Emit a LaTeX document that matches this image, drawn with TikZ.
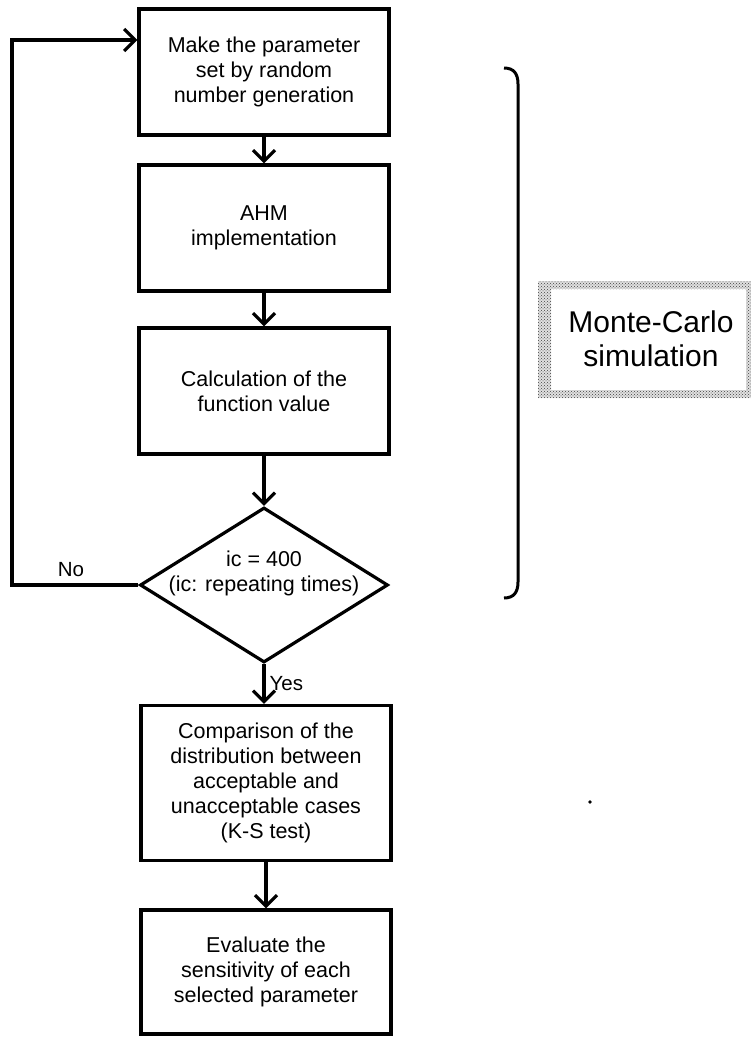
\documentclass[tikz,border=0pt]{standalone}
\usepackage{fontspec}
\setmainfont{Liberation Sans}
\usetikzlibrary{arrows.meta,shapes.geometric,patterns}
\tikzset{
  box/.style={draw, line width=3.2pt, minimum width=250pt, inner sep=0pt, align=center,
    font=\fontsize{21.5pt}{25pt}\selectfont},
  txt/.style={align=center, inner sep=0pt, font=\fontsize{21.5pt}{25pt}\selectfont},
  lbl/.style={inner sep=0pt, font=\fontsize{20.5pt}{24pt}\selectfont},
  conn/.style={line width=3.2pt, -{Straight Barb[length=11pt,width=22pt,line width=3.2pt]}},
}
\begin{document}
\begin{tikzpicture}[x=1pt,y=-1pt]
\useasboundingbox (0,0) rectangle (751,1038);
\node[box, minimum height=126pt] (b1) at (264,72) {Make the parameter\\set by random\\number generation};
\node[box, minimum height=126pt] (b2) at (264,228) {AHM\\implementation};
\node[box, minimum height=126pt] (b3) at (264,391) {Calculation of the\\function value};
\node[draw, diamond, line width=3.2pt, minimum width=248pt, minimum height=155pt, inner sep=0pt] (d) at (264,585) {};
\node[txt] (dt) at (264,573) {ic = 400\\(ic: repeating times)};
\node[box, minimum height=155pt] (b4) at (266,783) {Comparison of the\\distribution between\\acceptable and\\unacceptable cases\\(K-S test)};
\node[box, minimum height=124pt] (b5) at (266,972) {Evaluate the\\sensitivity of each\\selected parameter};

\draw[conn] (b1.south) -- (b2.north);
\draw[conn] (b2.south) -- (b3.north);
\draw[conn] (b3.south) -- (d.north);
\draw[conn] (d.south) -- (b4.north -| d.south) node[lbl, midway, right=4pt] (yes) {Yes};
\draw[conn] (b4.south) -- (b5.north);
\coordinate (lp) at (12,40);
\draw[conn] (d.west) -| (lp) -- (b1.west |- lp);
\node[lbl] (no) at (71,570) {No};

% bracket
\draw[line width=3pt] (504,68) .. controls (514,68) and (518,74) .. (518,84) -- (518,582) .. controls (518,592) and (514,598) .. (504,598);

% Monte-Carlo frame
\fill[black!12, even odd rule] (538,281) rectangle (751,398) (551,289) rectangle (746,390);
\fill[pattern=crosshatch dots, pattern color=black!75, even odd rule] (538,281) rectangle (751,398) (551,289) rectangle (746,390);
\node[txt, font=\fontsize{30pt}{34pt}\selectfont] (mc) at (651,339) {Monte-Carlo\\simulation};

% speck
\fill (590,802) circle (1.8pt);
\end{tikzpicture}
\end{document}
